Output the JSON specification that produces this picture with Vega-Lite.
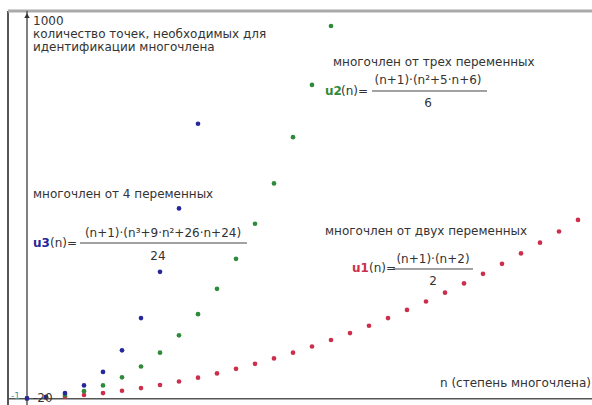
{
  "$schema": "https://vega.github.io/schema/vega-lite/v6.json",
  "width": 584,
  "height": 394,
  "autosize": "none",
  "padding": {"left": 8, "top": 11, "right": 0, "bottom": 0},
  "background": "white",
  "config": {"view": {"stroke": null}, "text": {"font": "DejaVu Sans"}},
  "datasets": {
    "points": [
      {"n":0,"value":1,"series":"u1"},{"n":1,"value":3,"series":"u1"},{"n":2,"value":6,"series":"u1"},{"n":3,"value":10,"series":"u1"},{"n":4,"value":15,"series":"u1"},{"n":5,"value":21,"series":"u1"},{"n":6,"value":28,"series":"u1"},{"n":7,"value":36,"series":"u1"},{"n":8,"value":45,"series":"u1"},{"n":9,"value":55,"series":"u1"},{"n":10,"value":66,"series":"u1"},{"n":11,"value":78,"series":"u1"},{"n":12,"value":91,"series":"u1"},{"n":13,"value":105,"series":"u1"},{"n":14,"value":120,"series":"u1"},{"n":15,"value":136,"series":"u1"},{"n":16,"value":153,"series":"u1"},{"n":17,"value":171,"series":"u1"},{"n":18,"value":190,"series":"u1"},{"n":19,"value":210,"series":"u1"},{"n":20,"value":231,"series":"u1"},{"n":21,"value":253,"series":"u1"},{"n":22,"value":276,"series":"u1"},{"n":23,"value":300,"series":"u1"},{"n":24,"value":325,"series":"u1"},{"n":25,"value":351,"series":"u1"},{"n":26,"value":378,"series":"u1"},{"n":27,"value":406,"series":"u1"},{"n":28,"value":435,"series":"u1"},{"n":29,"value":465,"series":"u1"},
      {"n":0,"value":1,"series":"u2"},{"n":1,"value":4,"series":"u2"},{"n":2,"value":10,"series":"u2"},{"n":3,"value":20,"series":"u2"},{"n":4,"value":35,"series":"u2"},{"n":5,"value":56,"series":"u2"},{"n":6,"value":84,"series":"u2"},{"n":7,"value":120,"series":"u2"},{"n":8,"value":165,"series":"u2"},{"n":9,"value":220,"series":"u2"},{"n":10,"value":286,"series":"u2"},{"n":11,"value":364,"series":"u2"},{"n":12,"value":455,"series":"u2"},{"n":13,"value":560,"series":"u2"},{"n":14,"value":680,"series":"u2"},{"n":15,"value":816,"series":"u2"},{"n":16,"value":969,"series":"u2"},
      {"n":0,"value":1,"series":"u3"},{"n":1,"value":5,"series":"u3"},{"n":2,"value":15,"series":"u3"},{"n":3,"value":35,"series":"u3"},{"n":4,"value":70,"series":"u3"},{"n":5,"value":126,"series":"u3"},{"n":6,"value":210,"series":"u3"},{"n":7,"value":330,"series":"u3"},{"n":8,"value":495,"series":"u3"},{"n":9,"value":715,"series":"u3"}
    ],
    "leftTexts": [
      {"x":0.316,"y":982,"label":"1000"},
      {"x":0.316,"y":948.2,"label":"количество точек, необходимых для"},
      {"x":0.316,"y":914.4,"label":"идентификации многочлена"},
      {"x":16.105,"y":875.5,"label":"многочлен от трех переменных"},
      {"x":0.316,"y":532.4,"label":"многочлен от 4 переменных"},
      {"x":15.684,"y":436.2,"label":"многочлен от двух переменных"},
      {"x":21.737,"y":41.2,"label":"n (степень многочлена)"},
      {"x":16.526,"y":800.1,"label":"(n)="},
      {"x":1.21,"y":405,"label":"(n)="},
      {"x":18.0,"y":340.1,"label":"(n)="},
      {"x":0.316,"y":1.5,"label":"-20"}
    ],
    "centerTexts": [
      {"x":21.105,"y":828.7,"label":"(n+1)·(n²+5·n+6)"},
      {"x":21.105,"y":768.9,"label":"6"},
      {"x":7.158,"y":431,"label":"(n+1)·(n³+9·n²+26·n+24)"},
      {"x":6.895,"y":371.3,"label":"24"},
      {"x":21.368,"y":363.5,"label":"(n+1)·(n+2)"},
      {"x":21.368,"y":306.3,"label":"2"}
    ],
    "names": [
      {"x":15.684,"y":800.1,"label":"u2","series":"u2"},
      {"x":0.316,"y":405,"label":"u3","series":"u3"},
      {"x":17.105,"y":340.1,"label":"u1","series":"u1"}
    ],
    "bars": [
      {"x":18.158,"x2":24.211,"y":800.1},
      {"x":2.789,"x2":11.579,"y":405},
      {"x":19.263,"x2":23.474,"y":337.5}
    ]
  },
  "layer": [
    {
      "data": {"values": [{}]},
      "mark": {"type": "rule", "color": "#555555", "strokeWidth": 2},
      "encoding": {
        "x": {"datum": -1, "type": "quantitative", "scale": {"domain": [-1, 29.737], "nice": false, "zero": false}, "axis": null}
      }
    },
    {
      "data": {"values": [{}]},
      "mark": {"type": "rule", "color": "#aaaaaa", "strokeWidth": 3},
      "encoding": {
        "y": {"datum": 1008, "type": "quantitative", "scale": {"domain": [-16, 1008], "nice": false, "zero": false}, "axis": null}
      }
    },
    {
      "data": {"values": [{}]},
      "mark": {"type": "rule", "color": "#555555", "strokeWidth": 1.5},
      "encoding": {
        "x": {"datum": 0, "type": "quantitative", "scale": {"domain": [-1, 29.737], "nice": false, "zero": false}, "axis": null}
      }
    },
    {
      "data": {"values": [{}]},
      "mark": {"type": "rule", "color": "#555555", "strokeWidth": 1.5},
      "encoding": {
        "y": {"datum": 0, "type": "quantitative", "scale": {"domain": [-16, 1008], "nice": false, "zero": false}, "axis": null}
      }
    },
    {
      "data": {"name": "points"},
      "mark": {"type": "point", "filled": true, "shape": "circle", "size": 22, "opacity": 1},
      "encoding": {
        "x": {"field": "n", "type": "quantitative", "scale": {"domain": [-1, 29.737], "nice": false, "zero": false}, "axis": null},
        "y": {"field": "value", "type": "quantitative", "scale": {"domain": [-16, 1008], "nice": false, "zero": false}, "axis": null},
        "color": {"field": "series", "type": "nominal", "scale": {"domain": ["u1", "u2", "u3"], "range": ["#cc2f4c", "#2f8a3a", "#27279c"]}, "legend": null}
      }
    },
    {
      "data": {"values": [{}]},
      "mark": {"type": "point", "filled": true, "shape": "triangle-up", "size": 30, "color": "#333333", "opacity": 1},
      "encoding": {
        "x": {"datum": 0, "type": "quantitative", "scale": {"domain": [-1, 29.737], "nice": false, "zero": false}, "axis": null},
        "y": {"datum": 996, "type": "quantitative", "scale": {"domain": [-16, 1008], "nice": false, "zero": false}, "axis": null}
      }
    },
    {
      "data": {"name": "leftTexts"},
      "mark": {"type": "text", "align": "left", "baseline": "middle", "fontSize": 12, "color": "#333333"},
      "encoding": {
        "x": {"field": "x", "type": "quantitative", "scale": {"domain": [-1, 29.737], "nice": false, "zero": false}, "axis": null},
        "y": {"field": "y", "type": "quantitative", "scale": {"domain": [-16, 1008], "nice": false, "zero": false}, "axis": null},
        "text": {"field": "label"}
      }
    },
    {
      "data": {"name": "centerTexts"},
      "mark": {"type": "text", "align": "center", "baseline": "middle", "fontSize": 12, "color": "#333333"},
      "encoding": {
        "x": {"field": "x", "type": "quantitative", "scale": {"domain": [-1, 29.737], "nice": false, "zero": false}, "axis": null},
        "y": {"field": "y", "type": "quantitative", "scale": {"domain": [-16, 1008], "nice": false, "zero": false}, "axis": null},
        "text": {"field": "label"}
      }
    },
    {
      "data": {"name": "names"},
      "mark": {"type": "text", "align": "left", "baseline": "middle", "fontSize": 12, "fontWeight": "bold"},
      "encoding": {
        "x": {"field": "x", "type": "quantitative", "scale": {"domain": [-1, 29.737], "nice": false, "zero": false}, "axis": null},
        "y": {"field": "y", "type": "quantitative", "scale": {"domain": [-16, 1008], "nice": false, "zero": false}, "axis": null},
        "text": {"field": "label"},
        "color": {"field": "series", "type": "nominal", "scale": {"domain": ["u1", "u2", "u3"], "range": ["#cc2f4c", "#2f8a3a", "#27279c"]}, "legend": null}
      }
    },
    {
      "data": {"name": "bars"},
      "mark": {"type": "rule", "color": "#444444", "strokeWidth": 1},
      "encoding": {
        "x": {"field": "x", "type": "quantitative", "scale": {"domain": [-1, 29.737], "nice": false, "zero": false}, "axis": null},
        "x2": {"field": "x2"},
        "y": {"field": "y", "type": "quantitative", "scale": {"domain": [-16, 1008], "nice": false, "zero": false}, "axis": null}
      }
    },
    {
      "data": {"values": [{"x": -0.842, "y": 6.3, "label": "-1"}]},
      "mark": {"type": "text", "align": "left", "baseline": "middle", "fontSize": 9, "color": "#3a9aa8"},
      "encoding": {
        "x": {"field": "x", "type": "quantitative", "scale": {"domain": [-1, 29.737], "nice": false, "zero": false}, "axis": null},
        "y": {"field": "y", "type": "quantitative", "scale": {"domain": [-16, 1008], "nice": false, "zero": false}, "axis": null},
        "text": {"field": "label"}
      }
    }
  ]
}
